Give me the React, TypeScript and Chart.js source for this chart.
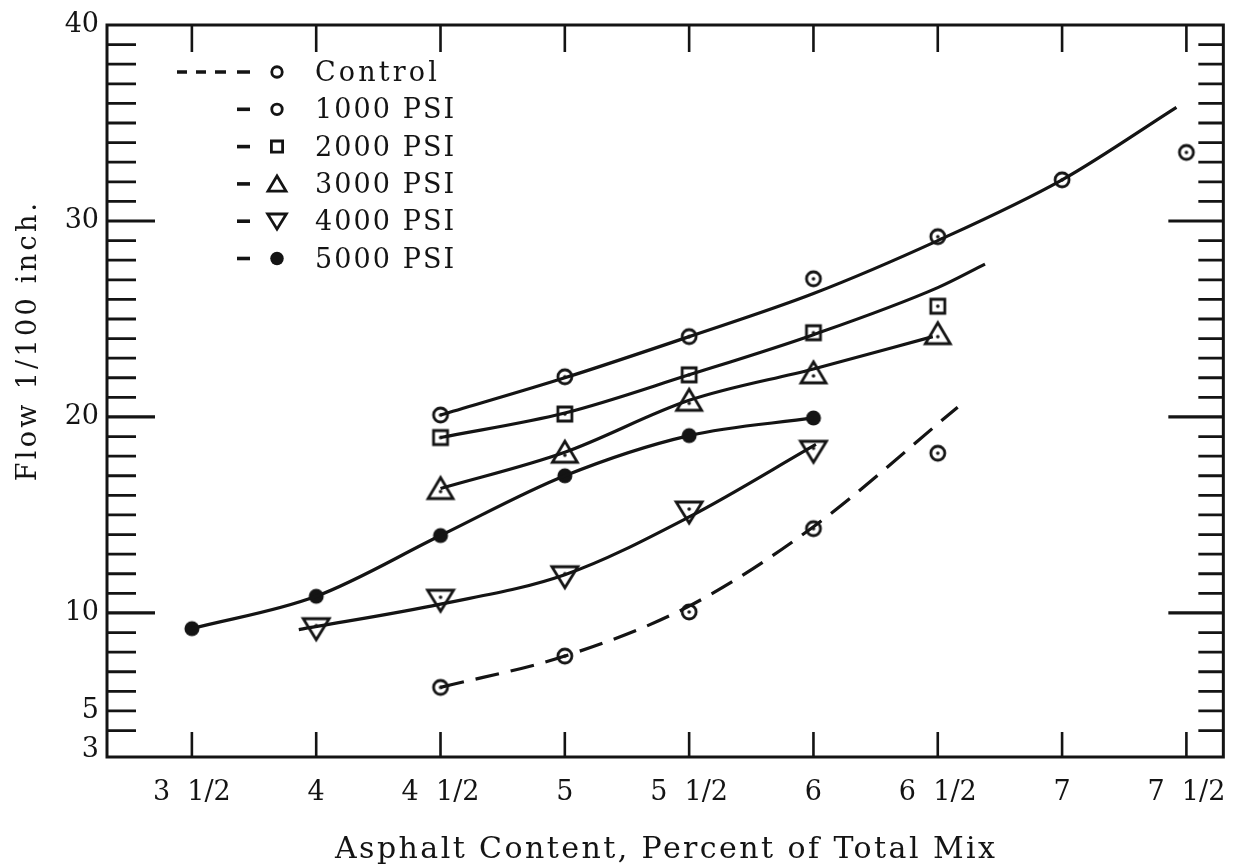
import React, { useEffect, useRef } from "react";
import { Chart, registerables } from "chart.js";

Chart.register(...registerables);

// ---------- axis ticks ----------
const xTickValues = [3.5, 4, 4.5, 5, 5.5, 6, 6.5, 7, 7.5];
const xTickLabels = ["3 1/2", "4", "4 1/2", "5", "5 1/2", "6", "6 1/2", "7", "7 1/2"];
const yTickValues = [3, 5, 10, 20, 30, 40];
const yMajorTicks = [10, 20, 30];
const yMinorFirst = 4;
const yMinorLast = 39;

// ---------- measured points (markers) ----------
const controlX = [4.5, 5, 5.5, 6, 6.5];
const controlY = [6.2, 7.8, 10.05, 14.3, 18.15];
const psi1000X = [4.5, 5, 5.5, 6, 6.5, 7, 7.5];
const psi1000Y = [20.1, 22.05, 24.1, 27.05, 29.2, 32.1, 33.5];
const psi2000X = [4.5, 5, 5.5, 6, 6.5];
const psi2000Y = [18.95, 20.15, 22.15, 24.3, 25.65];
const psi3000X = [4.5, 5, 5.5, 6, 6.5];
const psi3000Y = [16.35, 18.2, 20.85, 22.25, 24.25];
const psi4000X = [4, 4.5, 5, 5.5, 6];
const psi4000Y = [9.2, 10.65, 11.85, 15.15, 18.25];
const psi5000X = [3.5, 4, 4.5, 5, 5.5, 6];
const psi5000Y = [9.2, 10.85, 13.95, 17.0, 19.05, 19.95];

// ---------- fitted curves as drawn ----------
const controlCurveX = [4.5, 5, 5.5, 6, 6.58];
const controlCurveY = [6.2, 7.8, 10.35, 14.4, 20.5];
const psi1000CurveX = [4.5, 5, 5.5, 6, 6.5, 7, 7.46];
const psi1000CurveY = [20.1, 22.0, 24.1, 26.3, 29.0, 32.1, 35.8];
const psi2000CurveX = [4.5, 5, 5.5, 6, 6.5, 6.69];
const psi2000CurveY = [18.95, 20.2, 22.15, 24.2, 26.6, 27.8];
const psi3000CurveX = [4.5, 5, 5.5, 6, 6.48];
const psi3000CurveY = [16.35, 18.2, 20.85, 22.45, 24.1];
const psi4000CurveX = [3.93, 4.5, 5, 5.5, 6.01];
const psi4000CurveY = [9.15, 10.45, 11.95, 14.9, 18.6];
const psi5000CurveX = [3.5, 4, 4.5, 5, 5.5, 6];
const psi5000CurveY = [9.2, 10.85, 13.95, 17.0, 19.05, 19.95];

const legendLabels = ["Control", "1000 PSI", "2000 PSI", "3000 PSI", "4000 PSI", "5000 PSI"];
const xTitle = "Asphalt Content, Percent of Total Mix";
const yTitle = "Flow 1/100 inch.";

const INK = "#141414";
const TYPE = '"DejaVu Serif", "Liberation Serif", serif';
const SERIF = '"DejaVu Serif", "Liberation Serif", serif';
const FIG_SPACE = "\u2007";

type Kind = "circleDot" | "squareDot" | "triUp" | "triDown" | "disc";

function zip(xs: number[], ys: number[]) {
  return xs.map((x, i) => ({ x, y: ys[i] }));
}

function drawShape(ctx: CanvasRenderingContext2D, kind: Kind, cx: number, cy: number, s: number, dot: boolean) {
  ctx.beginPath();
  if (kind === "circleDot") {
    ctx.arc(cx, cy, 7 * s, 0, Math.PI * 2);
    ctx.stroke();
  } else if (kind === "squareDot") {
    const h = 7 * s;
    ctx.rect(cx - h, cy - h, 2 * h, 2 * h);
    ctx.stroke();
  } else if (kind === "triUp") {
    ctx.moveTo(cx, cy - 11 * s);
    ctx.lineTo(cx + 12.5 * s, cy + 10 * s);
    ctx.lineTo(cx - 12.5 * s, cy + 10 * s);
    ctx.closePath();
    ctx.stroke();
  } else if (kind === "triDown") {
    ctx.moveTo(cx - 13 * s, cy - 10 * s);
    ctx.lineTo(cx + 13 * s, cy - 10 * s);
    ctx.lineTo(cx, cy + 11 * s);
    ctx.closePath();
    ctx.stroke();
  } else {
    ctx.arc(cx, cy, 7.5 * s, 0, Math.PI * 2);
    ctx.fill();
  }
  if (dot && kind !== "disc") {
    let dy = 0;
    if (kind === "triUp") dy = 3;
    if (kind === "triDown") dy = -3;
    ctx.beginPath();
    ctx.arc(cx, cy + dy, 1.8, 0, Math.PI * 2);
    ctx.fill();
  }
}

function makeMarker(kind: Kind): HTMLCanvasElement {
  const c = document.createElement("canvas");
  c.width = 32;
  c.height = 32;
  const ctx = c.getContext("2d")!;
  ctx.strokeStyle = INK;
  ctx.fillStyle = INK;
  ctx.lineWidth = 2.8;
  ctx.lineJoin = "miter";
  drawShape(ctx, kind, 16, 16, 1, true);
  return c;
}

// draw text so that it occupies a typewriter pitch per character
function typeText(ctx: CanvasRenderingContext2D, text: string, x: number, y: number, pitch: number, align: "left" | "center") {
  (ctx as any).letterSpacing = "0px";
  const w = ctx.measureText(text).width;
  const n = text.length;
  const sp = n > 1 ? Math.max(0, (pitch * n - w) / (n - 1)) : 0;
  (ctx as any).letterSpacing = `${sp}px`;
  const total = w + sp * (n - 1);
  ctx.textAlign = "left";
  ctx.fillText(text, align === "center" ? x - total / 2 : x, y);
  (ctx as any).letterSpacing = "0px";
}

const decorPlugin = {
  id: "decor",
  afterDraw(chart: any) {
    const ctx: CanvasRenderingContext2D = chart.ctx;
    const { left, right, top, bottom } = chart.chartArea;
    const xs = chart.scales.x;
    const ys = chart.scales.y;
    ctx.save();
    ctx.strokeStyle = INK;
    ctx.fillStyle = INK;
    ctx.lineCap = "butt";

    // frame
    ctx.lineWidth = 3;
    ctx.strokeRect(left, top, right - left, bottom - top);

    // x ticks (bottom and top)
    ctx.lineWidth = 2.6;
    xTickValues.forEach((v) => {
      const px = xs.getPixelForValue(v);
      ctx.beginPath();
      ctx.moveTo(px, bottom);
      ctx.lineTo(px, bottom - 25);
      ctx.moveTo(px, top);
      ctx.lineTo(px, top + 27);
      ctx.stroke();
    });

    // y ticks (left and right)
    for (let v = yMinorFirst; v <= yMinorLast; v++) {
      const py = ys.getPixelForValue(v);
      const major = yMajorTicks.includes(v);
      ctx.lineWidth = major ? 3.2 : 2.8;
      ctx.beginPath();
      ctx.moveTo(left, py);
      ctx.lineTo(left + (major ? 48 : 29), py);
      ctx.moveTo(right, py);
      ctx.lineTo(right - (major ? 55 : 25), py);
      ctx.stroke();
    }

    // legend
    const kinds: Kind[] = ["circleDot", "circleDot", "squareDot", "triUp", "triDown", "disc"];
    legendLabels.forEach((label, i) => {
      const base = 81 + i * 37.3;
      const cy = base - 9;
      ctx.lineWidth = 3.6;
      ctx.beginPath();
      if (i === 0) {
        [[177, 187], [196, 206], [215, 226], [237, 250]].forEach(([a, b]) => {
          ctx.moveTo(a, cy);
          ctx.lineTo(b, cy);
        });
      } else {
        ctx.moveTo(237, cy);
        ctx.lineTo(250, cy);
      }
      ctx.stroke();
      ctx.lineWidth = 2.8;
      const k = kinds[i];
      const s = k === "circleDot" ? 0.75 : k === "squareDot" ? 0.8 : k === "disc" ? 0.9 : 0.72;
      drawShape(ctx, k, 277, cy, s, false);
      ctx.font = `27px ${TYPE}`;
      ctx.textBaseline = "alphabetic";
      typeText(ctx, label, 315, base, 17.4, "left");
    });

    // x title
    ctx.font = `30px ${SERIF}`;
    ctx.textBaseline = "alphabetic";
    typeText(ctx, xTitle, 665, 858, 660 / xTitle.length, "center");

    // y title
    ctx.save();
    ctx.translate(36, 342);
    ctx.rotate(-Math.PI / 2);
    ctx.font = `27px ${TYPE}`;
    ctx.textBaseline = "alphabetic";
    typeText(ctx, yTitle, 0, 0, 17.4, "center");
    ctx.restore();

    ctx.restore();
  },
};

export default function App() {
  const ref = useRef<HTMLCanvasElement | null>(null);

  useEffect(() => {
    if (!ref.current) return;
    const mk = {
      circleDot: makeMarker("circleDot"),
      squareDot: makeMarker("squareDot"),
      triUp: makeMarker("triUp"),
      triDown: makeMarker("triDown"),
      disc: makeMarker("disc"),
    };

    const curve = (xs: number[], ys: number[], dashed = false) => ({
      type: "line",
      data: zip(xs, ys),
      showLine: true,
      borderColor: INK,
      borderWidth: 3.2,
      borderDash: dashed ? [24, 12] : [],
      pointRadius: 0,
      fill: false,
      cubicInterpolationMode: "monotone",
    });
    const marks = (xs: number[], ys: number[], style: HTMLCanvasElement) => ({
      type: "scatter",
      data: zip(xs, ys),
      showLine: false,
      pointStyle: style,
      pointRadius: 8,
      borderColor: INK,
      backgroundColor: INK,
    });

    const chart = new Chart(ref.current, {
      type: "scatter",
      data: {
        datasets: [
          curve(controlCurveX, controlCurveY, true),
          curve(psi1000CurveX, psi1000CurveY),
          curve(psi2000CurveX, psi2000CurveY),
          curve(psi3000CurveX, psi3000CurveY),
          curve(psi4000CurveX, psi4000CurveY),
          curve(psi5000CurveX, psi5000CurveY),
          marks(controlX, controlY, mk.circleDot),
          marks(psi1000X, psi1000Y, mk.circleDot),
          marks(psi2000X, psi2000Y, mk.squareDot),
          marks(psi3000X, psi3000Y, mk.triUp),
          marks(psi4000X, psi4000Y, mk.triDown),
          marks(psi5000X, psi5000Y, mk.disc),
        ] as any,
      },
      options: {
        responsive: false,
        animation: false,
        events: [],
        layout: { padding: { top: 25, right: 21, left: 0, bottom: 0 } },
        plugins: {
          legend: { display: false },
          tooltip: { enabled: false },
          title: { display: false },
        },
        scales: {
          x: {
            type: "linear",
            min: 3.1586,
            max: 7.6486,
            grid: { display: false, drawTicks: false },
            border: { display: false },
            afterBuildTicks: (axis: any) => {
              axis.ticks = xTickValues.map((v) => ({ value: v }));
            },
            afterFit: (axis: any) => {
              axis.height = 110;
            },
            ticks: {
              autoSkip: false,
              maxRotation: 0,
              padding: 20,
              color: INK,
              font: { family: TYPE, size: 27 },
              callback: (v: any) => {
                const i = xTickValues.indexOf(Number(v));
                return i >= 0 ? xTickLabels[i].replace(" ", FIG_SPACE) : "";
              },
            },
          },
          y: {
            type: "linear",
            min: 2.65,
            max: 40,
            grid: { display: false, drawTicks: false },
            border: { display: false },
            afterBuildTicks: (axis: any) => {
              axis.ticks = yTickValues.map((v) => ({ value: v }));
            },
            afterFit: (axis: any) => {
              axis.width = 107;
            },
            ticks: {
              autoSkip: false,
              padding: 8,
              color: INK,
              font: { family: TYPE, size: 27 },
              callback: (v: any) => String(v),
            },
          },
        },
      } as any,
      plugins: [decorPlugin],
    });
    return () => chart.destroy();
  }, []);

  return (
    <div style={{ position: "fixed", left: 0, top: 0, width: 1246, height: 867, background: "#fff" }}>
      <canvas ref={ref} width={1246} height={867} />
    </div>
  );
}
